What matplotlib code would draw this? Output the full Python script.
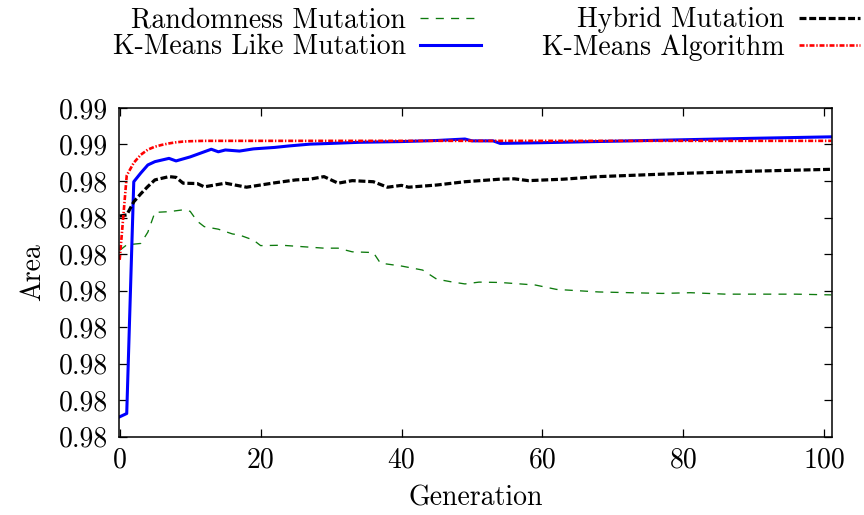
import matplotlib
matplotlib.use("Agg")
import matplotlib.pyplot as plt

# ---- data -------------------------------------------------------------
# Randomness Mutation
rand_gen = [0, 1, 3, 4, 5, 7, 9, 10, 11, 12, 14, 16, 17, 19, 20, 23, 26, 29,
            31, 33, 36, 37, 40, 43, 45, 47, 49, 51, 54, 59, 62, 68, 77, 81,
            86, 96, 101]
rand_area = [0.98210, 0.98225, 0.98229, 0.98260, 0.98314, 0.98316, 0.98321,
             0.98317, 0.98290, 0.98275, 0.98268, 0.98255, 0.98252, 0.98238,
             0.98223, 0.98224, 0.98220, 0.98216, 0.98216, 0.98206, 0.98204,
             0.98175, 0.98167, 0.98156, 0.98131, 0.98124, 0.98118, 0.98123,
             0.98122, 0.98115, 0.98103, 0.98096, 0.98092, 0.98094, 0.98090,
             0.98090, 0.98088]

# K-Means Like Mutation
kml_gen = [0, 1, 2, 3, 4, 5, 7, 8, 10, 12, 13, 14, 15, 17, 19, 22, 24, 27,
           30, 34, 40, 45, 49, 50, 53, 54, 60, 70, 80, 90, 101]
kml_area = [0.97754, 0.97763, 0.98398, 0.98422, 0.98444, 0.98453, 0.98462,
            0.98455, 0.98466, 0.98480, 0.98487, 0.98480, 0.98485, 0.98482,
            0.98488, 0.98492, 0.98496, 0.98501, 0.98503, 0.98506, 0.98508,
            0.98511, 0.98515, 0.98510, 0.98510, 0.98503, 0.98505, 0.98509,
            0.98513, 0.98517, 0.98521]

# Hybrid Mutation
hyb_gen = [0, 1, 2, 3, 4, 5, 7, 8, 9, 11, 12, 15, 18, 22, 25, 27, 29, 31,
           33, 36, 38, 40, 41, 45, 49, 54, 56, 58, 63, 68, 80, 90, 101]
hyb_area = [0.98304, 0.98307, 0.98343, 0.98365, 0.98385, 0.98403, 0.98412,
            0.98410, 0.98394, 0.98393, 0.98384, 0.98394, 0.98383, 0.98395,
            0.98403, 0.98405, 0.98412, 0.98394, 0.98401, 0.98398, 0.98383,
            0.98388, 0.98383, 0.98389, 0.98398, 0.98405, 0.98406, 0.98401,
            0.98405, 0.98412, 0.98421, 0.98427, 0.98432]

# K-Means Algorithm
kma_gen = [0, 1, 2, 3, 4, 5, 6, 7, 8, 9, 10, 12, 101]
kma_area = [0.98184, 0.98415, 0.98450, 0.98472, 0.98486, 0.98494, 0.98499,
            0.98503, 0.98506, 0.98508, 0.98509, 0.98510, 0.98510]

y_ticks = [0.977, 0.978, 0.979, 0.980, 0.981, 0.982, 0.983, 0.984, 0.985, 0.986]
y_tick_labels = ["0.98", "0.98", "0.98", "0.98", "0.98", "0.98", "0.98",
                 "0.98", "0.99", "0.99"]
x_ticks = [0, 20, 40, 60, 80, 100]

# ---- style ------------------------------------------------------------
plt.rcParams["font.family"] = ["cmr10", "DejaVu Serif"]
plt.rcParams["axes.unicode_minus"] = False
plt.rcParams["font.size"] = 20
plt.rcParams["lines.scale_dashes"] = False

fig = plt.figure(figsize=(8.64, 5.15), dpi=100)
ax = fig.add_axes([0.1377, 0.1524, 0.963 - 0.1377, 0.7903 - 0.1524])

ax.plot(rand_gen, rand_area, color="#0d7a0d", lw=0.95,
        dashes=(5.8, 5.2), label="Randomness Mutation")
ax.plot(kml_gen, kml_area, color="#0000ff", lw=2.2,
        label="K-Means Like Mutation")
ax.plot(hyb_gen, hyb_area, color="black", lw=2.3,
        dashes=(5.0, 2.0), label="Hybrid Mutation")
ax.plot(kma_gen, kma_area, color="#ff0000", lw=1.9,
        dashes=(3.6, 1.3, 1.0, 1.3), label="K-Means Algorithm")

ax.set_xlim(-0.1, 101.1)
ax.set_ylim(y_ticks[0], y_ticks[-1])
ax.set_xticks(x_ticks)
ax.set_yticks(y_ticks)
ax.set_yticklabels(y_tick_labels)

for s in ax.spines.values():
    s.set_linewidth(1.1)
ax.tick_params(direction="in", length=6, width=0.9, top=True, right=True,
               labelsize=20)
ax.tick_params(axis="y", pad=8)
ax.tick_params(axis="x", pad=8)

ax.set_xlabel("Generation", fontsize=20, labelpad=8)
ax.set_ylabel("Area", fontsize=20, labelpad=9)

leg = fig.legend(loc="upper left", bbox_to_anchor=(113 / 864, 1 - 7 / 515),
                 ncol=2, markerfirst=False, frameon=False, fontsize=20,
                 handlelength=2.2, handletextpad=0.5, columnspacing=2.2,
                 labelspacing=0.03, borderpad=0, borderaxespad=0)

fig.savefig("out.png", dpi=100)
